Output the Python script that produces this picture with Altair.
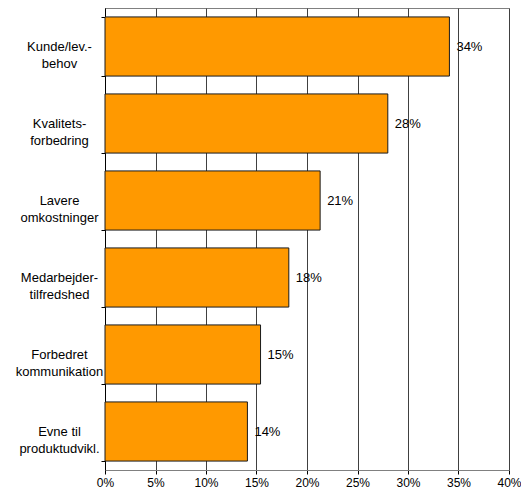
import altair as alt
import pandas as pd

categories = ["Kunde/lev.-\nbehov", "Kvalitets-\nforbedring", "Lavere\nomkostninger",
              "Medarbejder-\ntilfredshed", "Forbedret\nkommunikation", "Evne til\nproduktudvikl."]
values = [0.341, 0.280, 0.213, 0.182, 0.154, 0.141]
x_ticks = [0, 0.05, 0.10, 0.15, 0.20, 0.25, 0.30, 0.35, 0.40]

df = pd.DataFrame({"cat": categories, "val": values})

FONT = "Liberation Sans"

y_enc = alt.Y("cat:N", sort=categories, title=None,
              scale=alt.Scale(paddingInner=0.232, paddingOuter=0.116),
              axis=alt.Axis(labelExpr="split(datum.label, '\\n')", labelAlign="center",
                            labelBaseline="middle", labelPadding=42, tickSize=4,
                            tickBand="extent", labelLineHeight=17, labelFont=FONT,
                            labelFontSize=13, labelColor="#000000", domainColor="#000000",
                            tickColor="#000000", grid=False, labelLimit=200))

x_enc = alt.X("val:Q", title=None,
              scale=alt.Scale(domain=[0, 0.4], nice=False),
              axis=alt.Axis(values=x_ticks, format=".0%", grid=True, gridColor="#404040",
                            tickSize=4, labelPadding=3, labelFont=FONT, labelFontSize=12,
                            labelColor="#000000", domainColor="#808080", tickColor="#000000",
                            labelFlush=False))

bars = alt.Chart(df).mark_bar(color="#FF9900", stroke="#1a1a1a", strokeWidth=1).encode(
    x=x_enc, y=y_enc)

text = alt.Chart(df).mark_text(align="left", baseline="middle", dx=7, font=FONT,
                               fontSize=13, color="#000000").encode(
    x="val:Q", y=alt.Y("cat:N", sort=categories),
    text=alt.Text("val:Q", format=".0%"))

chart = (bars + text).properties(
    width=404, height=462,
    autosize=alt.AutoSizeParams(type="none"),
    padding={"left": 97, "top": 0, "right": 12, "bottom": 18},
).configure_view(stroke="#808080", strokeWidth=1)

chart.save("out.html", embed_options={"renderer": "svg", "actions": False})
